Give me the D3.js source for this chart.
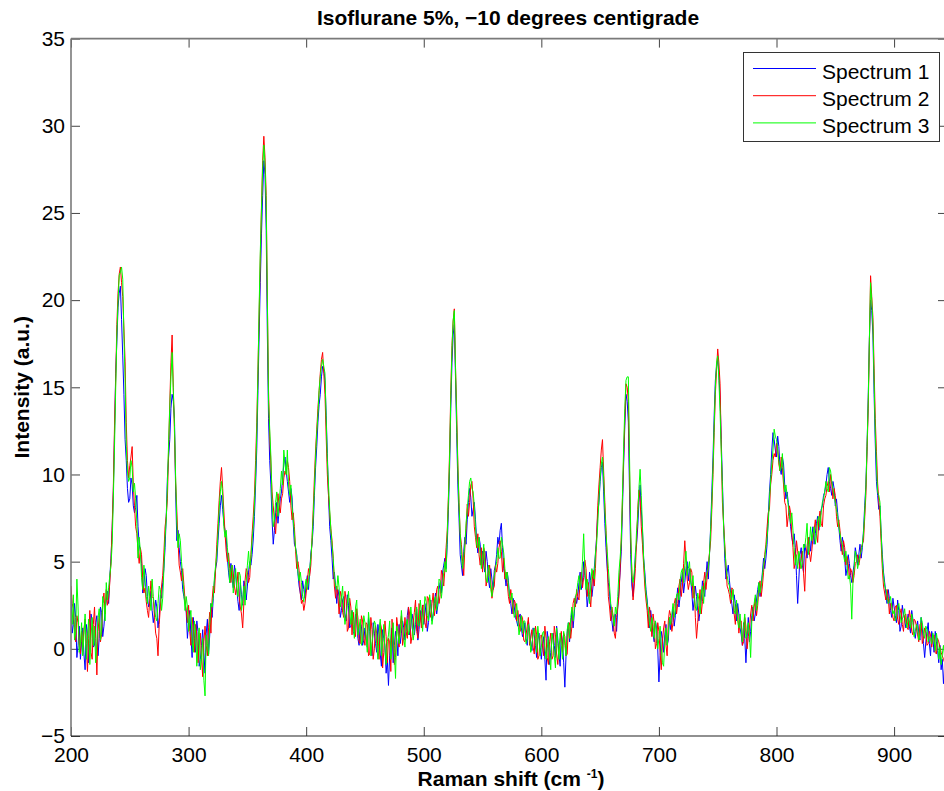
<!DOCTYPE html>
<html><head><meta charset="utf-8">
<script src="https://cdn.jsdelivr.net/npm/d3@7"></script>
<style>
body{margin:0;background:#fff}
svg{display:block}
text{font-family:"Liberation Sans",Arial,Helvetica,sans-serif}
</style>
</head><body>
<svg id="chart" width="944" height="791"></svg>
<script>
const chartTitle = "Isoflurane 5%, \u221210 degrees centigrade";
const xLabel = "Raman shift (cm";
const yLabel = "Intensity (a.u.)";
const xTicks = [200, 300, 400, 500, 600, 700, 800, 900];
const yTicks = [-5, 0, 5, 10, 15, 20, 25, 30, 35];
const seriesNames = ["Spectrum 1", "Spectrum 2", "Spectrum 3"];
const seriesColors = ["#0000ff", "#ff0000", "#00ff00"];
// Raman shift sampling grids, cm^-1: even points 200..944, odd points 201..943
const wavenumbersEven = d3.range(200, 945, 2);
const wavenumbersOdd = d3.range(201, 944, 2);

// ---- Spectrum 1 (blue) ----
const spectrum1Even = [
2.9,1.4,1.8,0.2,-0.6, 1.2,-1.2,0.9,0.3,1.6, 0.2,1.9,0.6,2.1,1.3, 2.8,2.6,5.2,9.0,15.8,
19.6,20.8,16.8,12.0,9.2, 8.6,9.4,7.8,8.8,6.0, 4.9,3.6,4.2,2.4,3.3, 1.5,2.8,1.2,3.1,3.8,
5.8,9.8,12.0,14.6,13.2, 6.2,5.8,4.5,3.0,2.1, 1.5,0.7,1.8,-0.2,1.0, -0.6,1.1,-1.4,1.7,0.8,
1.8,3.9,5.0,7.2,8.8, 7.2,6.4,4.4,4.9,3.5, 4.3,2.7,3.8,2.5,3.6, 3.6,5.0,5.4,7.6,11.5,
18.0,23.8,28.0,24.0,13.2, 9.4,6.0,7.8,7.2,8.6, 9.8,11.0,9.6,8.4,8.7, 6.0,5.4,3.6,2.8,3.4,
3.8,3.4,5.5,7.0,10.4, 13.0,14.6,16.2,15.4,11.2, 7.0,5.2,4.4,2.6,3.0, 2.2,3.0,1.6,2.5,1.3,
1.0,2.0,0.6,1.5,0.2, 1.2,0.1,1.0,-0.4,0.9, -0.2,0.8,-1.0,0.6,-1.4, -2.1,0.5,-0.8,1.0,-0.4,
0.3,1.6,0.5,1.9,0.8, 2.0,0.8,2.3,1.1,1.5, 1.4,2.6,1.5,2.8,2.0, 3.2,2.5,3.8,4.4,5.2,
6.0,10.4,16.4,18.6,12.4, 7.5,4.8,5.6,6.0,8.4, 8.7,8.0,7.4,5.5,6.0, 5.6,4.4,5.0,3.5,4.0,
4.5,5.4,6.0,7.2,4.6, 3.6,3.9,2.6,2.9,1.8, 1.3,2.0,0.7,1.5,0.2, 1.0,-0.1,0.8,-0.5,0.9,
-0.6,0.7,-1.8,0.5,-0.2, 0.9,-0.5,0.6,-1.0,0.4, -2.2,0.9,0.4,2.2,2.0, 2.6,3.8,3.4,5.0,3.6,
3.0,3.9,3.6,5.4,7.8, 9.6,10.7,7.2,4.6,3.2, 1.6,1.9,1.0,3.4,5.6, 10.6,14.6,13.0,5.4,3.0,
5.5,7.0,9.4,6.8,4.4, 2.8,1.2,1.6,0.4,1.2, -1.9,1.0,-0.2,1.4,0.5, 1.1,2.4,1.9,3.5,3.0,
4.4,3.8,5.0,4.6,3.2, 2.8,3.0,1.6,2.8,3.4, 4.2,4.0,7.0,11.0,15.4, 16.6,14.4,9.6,5.2,4.4,
3.9,2.6,3.1,1.6,2.0, 0.8,1.5,-0.8,1.8,1.0, 2.4,2.0,3.4,3.0,4.4, 4.6,6.0,9.0,11.4,12.0,
11.0,11.6,10.0,10.6,8.6, 8.4,7.0,6.0,5.8,2.6, 5.4,4.8,6.0,5.2,6.4, 6.4,6.0,7.2,6.8,8.0,
8.8,9.4,10.4,9.2,9.6, 8.2,7.8,6.2,6.4,5.2, 4.6,4.9,3.8,4.8,5.4, 5.4,5.2,6.8,9.4,14.4,
20.0,18.0,11.8,8.8,8.2, 5.4,3.8,2.6,2.9,1.8, 2.4,1.5,2.2,1.3,2.0, 1.2,2.0,0.9,1.7,0.6,
1.6,0.5,1.2,-0.5,1.0, 0.3,1.0,-0.2,0.4,-0.8, -1.2,-2.0,-1.6
];
const spectrum1Odd = [
0.9,2.6,-0.5,1.3,0.4, -0.3,1.4,-0.8,2.0,0.1, 1.5,-0.4,2.4,0.7,2.2, 3.3,4.1,6.8,12.3,17.6,
20.4,18.9,14.6,10.8,8.4, 9.8,8.2,8.1,7.0,5.6, 3.2,4.6,3.0,2.6,2.2, 2.0,2.4,1.8,2.9,4.6,
7.6,11.0,13.8,14.2,9.0, 6.8,5.0,3.4,2.6,0.6, 2.2,-0.5,0.6,1.6,-1.0, 0.2,-0.2,0.9,-0.3,2.6,
2.9,4.6,6.2,8.2,8.0, 6.8,5.2,3.8,4.0,4.8, 3.4,2.2,3.1,3.9,2.8, 4.4,4.8,6.3,9.4,14.8,
21.0,26.0,27.2,18.0,10.8, 7.4,6.8,8.4,7.9,9.0, 10.6,10.2,9.0,9.2,7.2, 5.8,4.3,3.2,3.9,2.9,
4.2,4.4,6.0,8.8,11.6, 14.0,15.6,16.0,13.4,8.8, 6.2,4.0,3.6,3.4,1.8, 2.8,2.0,3.1,1.2,2.2,
0.8,1.7,0.2,1.3,0.5, 0.6,1.8,0.2,1.5,0.3, 1.4,-0.3,1.1,0.2,-0.6, -0.4,1.2,0.2,0.6,1.4,
0.9,1.2,1.0,2.4,1.2, 1.6,1.4,0.5,2.2,2.5, 2.0,1.0,2.2,1.6,2.6, 2.0,3.4,3.2,4.8,4.6,
8.0,13.8,18.0,15.6,9.4, 5.4,4.2,6.4,7.4,9.2, 7.6,8.4,6.2,6.4,4.8, 4.8,5.6,4.0,4.6,3.4,
4.8,6.4,6.8,5.8,4.2, 4.4,3.0,2.0,2.4,1.6, 1.8,1.2,0.9,0.6,1.6, 0.4,1.2,0.2,0.5,0.1,
0.2,-0.6,1.0,-0.9,0.5, 0.2,1.3,-0.4,0.9,-0.8, -0.4,1.5,1.3,1.2,3.0, 3.0,4.4,3.8,4.2,2.4,
4.4,3.0,4.6,6.4,8.4, 10.4,9.0,5.8,3.8,2.2, 1.0,2.0,2.4,4.4,8.0, 12.8,14.2,9.0,3.6,4.0,
6.0,8.4,8.0,5.2,3.4, 2.0,2.2,0.8,1.6,0.0, -0.4,0.6,0.8,0.2,1.8, 1.6,1.3,2.8,2.4,3.8,
3.2,4.6,3.9,4.0,2.2, 3.6,2.2,2.2,3.9,3.0, 5.0,5.4,9.0,13.4,16.2, 15.8,12.0,7.2,4.0,4.8,
3.2,2.0,2.6,2.6,1.2, 0.2,0.6,0.6,0.4,1.9, 1.6,2.8,3.8,3.6,5.2, 5.2,7.6,10.0,12.4,11.4,
12.2,10.4,11.0,9.4,9.0, 7.8,6.4,6.6,4.2,4.0, 5.8,4.4,5.6,6.0,5.6, 7.0,6.6,7.6,7.4,8.2,
9.0,10.0,9.6,8.8,9.2, 8.6,7.0,5.6,6.0,4.2, 5.4,4.2,4.4,5.8,4.8, 6.0,5.8,8.2,11.6,17.8,
19.4,14.6,9.6,8.0,6.6, 4.4,3.2,3.4,2.2,2.9, 1.9,2.8,1.0,2.5,1.7, 1.6,1.3,2.2,1.0,1.2,
0.9,1.8,0.3,0.4,1.5, -0.4,0.6,1.0,-0.1,0.2, -0.6,-1.0
];

// ---- Spectrum 2 (red) ----
const spectrum2Even = [
3.6,2.3,0.4,1.5,-0.3, 0.1,1.7,-1.3,2.2,-0.6, 2.4,-1.5,1.9,0.8,3.2, 3.4,2.9,5.0,9.3,15.4,
20.4,21.9,20.2,16.5,10.8, 10.5,11.6,8.2,6.6,4.9, 5.4,3.2,2.7,1.8,3.9, 2.9,0.9,-0.4,2.4,4.2,
7.0,8.6,14.1,18.0,12.4, 7.9,4.8,3.9,3.7,2.2, 2.5,0.2,1.2,1.4,-0.8, 0.9,-1.6,1.3,-0.4,2.1,
2.8,3.2,6.0,8.5,10.4, 7.9,5.6,5.5,3.8,4.3, 3.1,4.4,2.4,1.2,3.9, 4.4,4.1,6.6,8.8,13.0,
19.2,25.4,29.4,26.0,14.8, 10.6,8.2,6.6,8.9,7.8, 8.9,10.2,10.8,9.6,7.4, 7.0,4.6,4.5,2.6,2.2,
3.2,4.6,4.8,8.0,11.4, 13.8,15.8,17.0,14.6,10.0, 7.8,6.2,3.6,3.6,2.0, 3.0,1.8,2.8,1.2,2.4,
2.1,0.7,1.8,0.3,1.6, 0.2,1.4,-0.3,1.1,0.0, 0.9,-0.6,1.2,-0.2,0.7, 0.6,-1.3,0.9,-0.5,1.2,
1.4,0.2,1.8,0.6,2.0, 0.7,2.1,1.0,2.6,1.2, 2.5,1.2,2.9,1.8,3.2, 2.4,3.6,3.1,4.2,4.6,
6.8,11.4,17.4,19.5,13.6, 8.4,6.0,4.2,6.9,7.6, 9.4,8.6,6.4,6.6,4.8, 4.4,5.5,4.0,4.8,2.9,
3.6,4.4,5.8,5.6,5.2, 4.4,3.0,3.4,2.0,2.6, 2.2,1.0,1.8,0.4,1.3, 0.2,1.1,-0.3,0.8,-0.4,
0.8,-0.4,0.6,-0.9,0.9, -0.4,0.8,-0.9,0.5,-0.2, 0.7,-0.3,1.5,1.3,2.9, 3.4,2.8,4.4,4.1,4.6,
3.8,2.4,4.5,4.6,8.2, 10.4,12.0,8.4,5.2,2.4, 2.4,0.9,1.8,3.0,6.4, 11.0,15.2,14.2,6.4,2.8,
4.6,8.0,8.6,6.0,3.6, 2.2,2.4,0.7,1.5,0.3, 1.0,-1.2,1.2,0.2,1.6, 1.9,1.5,2.9,2.6,4.0,
3.6,6.2,4.0,3.8,4.4, 3.6,0.6,2.5,2.0,3.8, 3.4,4.8,6.2,10.0,14.6, 17.2,15.2,8.4,6.0,3.6,
3.1,3.5,2.0,2.5,0.9, 1.6,0.4,1.3,0.7,2.0, 1.6,2.9,2.5,3.9,3.6, 5.4,7.0,8.0,10.0,11.2,
11.8,10.6,11.0,9.4,8.2, 7.6,7.8,5.8,5.0,5.6, 4.6,5.6,3.3,5.9,5.5, 5.6,6.8,6.6,7.4,7.2,
8.2,8.8,9.6,10.0,8.6, 8.8,7.0,6.8,5.4,5.8, 5.3,4.0,4.4,4.2,5.0, 4.8,5.8,6.2,8.8,13.8,
21.4,19.0,13.2,9.5,7.6, 4.6,3.2,3.4,2.0,2.6, 1.6,2.5,1.4,2.3,1.0, 2.0,1.1,1.8,0.8,1.6,
0.8,1.4,0.3,1.2,0.2, 1.0,0.1,0.8,-0.3,0.4, -0.2,-0.6,-1.0
];
const spectrum2Odd = [
2.6,1.2,1.9,0.4,1.0, 1.1,0.3,0.6,-0.2,1.4, 0.6,1.0,0.4,2.6,2.0, 2.5,3.8,7.0,12.8,18.6,
21.5,21.0,18.4,13.0,9.8, 11.0,9.4,7.0,5.6,5.8, 4.0,3.5,2.2,2.9,3.0, 1.8,0.6,1.4,3.6,5.5,
7.6,11.5,16.4,15.0,9.6, 6.2,4.4,4.6,2.8,1.5, 1.0,1.8,-0.2,0.8,0.5, -0.5,0.4,0.2,1.2,0.9,
3.6,4.6,7.2,9.6,9.2, 6.6,5.0,4.6,4.8,3.6, 3.6,3.0,2.0,2.6,4.6, 3.8,5.4,7.6,10.8,16.0,
22.4,28.0,28.2,20.0,12.2, 9.0,7.4,7.8,8.2,8.6, 9.8,10.0,10.4,8.2,7.8, 5.6,5.0,3.2,2.8,2.6,
3.9,4.2,6.4,9.8,12.6, 14.8,16.6,15.8,12.2,8.8, 6.9,5.2,2.9,3.1,3.3, 2.1,3.3,1.0,2.9,0.8,
1.2,2.3,0.4,1.9,0.6, 1.5,-0.4,1.8,-0.6,1.3, 0.0,1.5,-1.1,1.6,-0.8, 0.4,1.7,-0.9,1.8,0.1,
1.9,0.7,1.0,2.4,0.3, 1.5,2.8,0.6,1.9,2.5, 1.5,3.0,2.2,2.6,1.9, 3.4,2.6,4.5,3.6,5.8,
8.8,14.8,18.8,16.2,10.6, 6.6,5.0,5.9,8.3,8.4, 9.6,7.0,5.8,5.4,5.8, 5.8,3.6,4.4,3.9,3.4,
4.8,4.9,6.2,4.4,4.0, 3.8,2.6,2.8,2.8,1.6, 1.6,1.9,0.5,0.8,1.8, 0.6,0.1,1.3,-0.6,0.7,
0.3,1.3,-0.5,0.4,-0.6, 1.3,-0.3,0.2,1.0,0.9, -0.4,1.3,0.6,2.6,2.4, 3.0,3.9,3.5,5.1,3.0,
3.1,3.6,3.6,6.4,9.4, 11.4,10.2,6.8,3.0,1.6, 1.9,0.6,2.4,4.6,8.6, 13.2,15.0,10.2,4.4,3.6,
6.2,9.1,7.0,4.8,2.8, 1.2,1.8,2.0,0.0,1.5, -0.2,0.4,1.6,-0.4,2.2, 1.0,2.6,2.0,3.6,3.0,
4.9,5.1,3.4,4.6,2.9, 1.8,1.5,3.4,2.7,4.4, 4.1,5.5,8.0,12.4,16.0, 16.4,11.6,7.2,4.8,3.4,
2.6,3.4,1.4,2.0,1.6, 0.2,1.8,0.0,1.2,2.5, 2.4,1.9,3.5,3.0,4.4, 6.0,7.8,9.4,10.8,11.0,
11.4,10.2,10.4,8.4,7.0, 8.2,6.6,4.6,6.2,5.0, 5.2,4.3,5.2,6.4,5.0, 6.4,7.4,6.1,7.9,7.0,
8.6,9.3,9.0,9.4,9.2, 7.6,7.4,6.0,6.2,4.8, 4.9,4.6,3.8,4.9,5.4, 5.2,6.0,7.5,11.3,17.6,
20.2,16.1,11.3,8.5,6.1, 3.6,2.8,3.0,2.6,1.8, 2.4,1.7,2.0,1.4,1.9, 1.2,2.2,1.0,1.7,1.3,
0.4,1.5,0.6,0.9,0.3, 0.8,0.6,-0.2,0.6,0.1, -0.4,-0.8
];

// ---- Spectrum 3 (green) ----
const spectrum3Even = [
2.2,3.1,1.0,2.4,0.3, -0.4,2.0,0.6,-0.9,1.8, 1.3,0.4,2.3,1.0,2.6, 3.8,3.5,4.8,8.6,14.9,
19.9,21.6,21.2,15.5,10.2, 9.8,10.4,9.5,7.2,6.4, 4.1,4.8,3.0,3.6,2.2, 3.0,1.8,2.6,3.4,2.9,
6.4,9.4,13.8,17.0,12.8, 7.2,6.6,5.0,3.2,3.0, 1.0,2.2,-0.2,0.9,0.4, -1.2,0.6,-2.7,0.3,1.4,
2.4,4.1,5.4,8.0,9.6, 7.0,6.8,5.0,4.6,3.2, 4.6,3.0,4.2,2.8,2.5, 4.8,4.6,6.2,8.2,12.4,
19.6,25.2,28.9,25.5,14.2, 11.0,7.0,8.4,7.6,9.2, 9.4,10.6,11.4,8.8,8.2, 6.6,5.3,3.9,3.8,2.7,
4.0,3.9,5.2,7.6,11.0, 13.4,15.6,16.6,15.8,10.8, 8.0,6.0,4.1,3.4,3.5, 2.9,2.1,1.9,3.3,1.4,
1.4,2.4,0.8,1.7,0.5, 1.5,-0.2,1.3,0.4,1.6, 0.3,1.0,-0.4,1.4,-0.9, 0.8,-0.6,1.5,-1.7,1.0,
0.9,1.3,0.1,1.7,1.1, 1.6,1.0,2.4,1.3,2.2, 2.0,2.7,1.6,2.5,1.9, 3.0,2.8,3.9,3.6,5.0,
6.6,11.0,17.2,19.4,13.0, 8.2,5.4,5.3,7.2,8.8, 9.8,9.0,7.0,5.8,5.4, 5.2,4.7,3.8,4.3,3.0,
4.2,5.0,5.2,6.4,5.5, 4.0,3.7,2.8,2.4,2.0, 1.7,1.2,0.9,1.6,0.5, 0.9,0.2,1.2,-0.2,0.6,
0.1,1.0,-0.6,0.7,-1.2, 0.5,-1.1,0.3,0.9,-0.6, 0.2,1.1,0.6,2.4,2.2, 3.2,4.2,4.0,6.6,3.4,
3.4,3.6,4.2,5.5,7.2, 9.8,11.0,8.0,5.6,3.6, 2.2,1.3,2.0,4.4,6.2, 11.6,15.4,15.6,6.8,3.8,
5.2,7.6,10.3,7.0,4.1, 2.6,1.5,1.8,0.6,1.0, 0.6,0.1,-1.0,1.2,0.9, 1.4,2.6,2.3,3.2,3.9,
4.6,4.8,4.2,5.0,3.6, 3.0,2.2,2.8,3.2,2.6, 4.0,4.6,6.8,10.4,15.0, 16.8,13.6,9.2,5.8,4.2,
3.6,2.8,2.2,2.8,1.2, 1.1,1.3,0.6,1.5,-0.5, 2.2,3.1,2.8,3.2,4.2, 5.2,6.4,8.6,10.6,12.6,
12.0,10.8,10.4,9.8,9.4, 8.2,7.2,6.8,4.8,4.6, 5.2,5.0,5.8,7.2,6.0, 6.2,7.0,6.5,7.6,7.8,
8.6,9.6,9.0,10.2,9.2, 8.4,7.6,6.6,6.0,5.0, 4.8,4.2,1.7,4.6,5.2, 5.0,5.6,6.6,9.2,14.2,
21.0,18.6,12.4,9.0,8.4, 5.0,3.6,3.0,2.7,2.4, 2.2,1.8,2.6,1.5,1.9, 1.5,1.8,1.2,1.5,1.0,
1.3,0.8,1.5,0.6,1.1, 0.7,0.3,0.5,0.9,-0.6, -0.9,0.2,-0.7
];
const spectrum3Odd = [
1.4,0.5,4.0,-0.2,1.5, 0.8,-0.6,1.7,0.6,0.2, -0.8,1.8,0.5,3.0,1.6, 2.8,4.2,6.0,11.6,18.0,
21.4,21.9,18.0,11.6,9.6, 10.8,9.0,8.6,5.2,5.6, 3.4,4.0,2.6,3.0,4.0, 2.4,1.6,3.6,2.2,4.6,
7.4,11.8,15.6,14.8,9.8, 5.8,6.2,4.1,2.2,2.4, 1.8,0.4,1.6,-1.0,1.2, -0.6,-1.8,0.8,-0.4,2.6,
3.0,4.8,6.6,9.0,8.8, 6.4,5.8,3.8,4.8,4.0, 3.5,4.4,2.2,3.6,3.8, 5.6,5.2,7.0,10.0,15.8,
22.8,27.6,27.8,20.0,12.6, 8.4,7.4,9.0,8.4,10.2, 11.4,10.0,9.4,9.4,7.4, 5.8,4.4,4.4,3.0,3.6,
3.4,4.6,6.2,9.2,12.4, 14.8,16.2,16.2,13.2,9.4, 6.8,5.2,3.6,4.2,2.4, 3.6,1.4,2.6,2.2,2.2,
0.6,2.8,1.2,0.2,1.9, 0.8,2.1,-0.4,0.9,1.4, -0.6,1.7,0.4,0.0,0.4, 1.6,0.2,-0.2,1.3,0.3,
2.2,0.6,1.4,0.8,2.4, 0.5,1.9,1.4,2.8,1.0, 3.0,1.9,3.1,1.4,2.8, 2.2,4.0,2.9,4.4,4.4,
8.6,14.4,18.8,16.2,10.4, 6.6,4.6,6.0,8.0,9.6, 9.2,8.2,6.0,6.4,4.6, 6.0,4.0,4.8,3.4,3.8,
4.6,5.8,5.2,6.0,4.6, 4.4,3.0,3.2,1.8,2.6, 0.8,1.9,1.6,0.3,1.4, -0.2,0.8,0.6,1.3,-0.4,
0.9,0.2,0.0,-0.5,0.9, -0.4,1.2,-0.6,0.2,1.0, -0.4,1.5,1.8,1.6,3.0, 3.8,3.4,5.0,4.6,4.0,
2.6,4.6,4.0,6.0,8.6, 10.6,9.8,6.6,4.6,2.6, 1.8,2.4,3.0,5.2,8.8, 13.8,15.6,11.0,4.2,4.4,
6.8,9.2,8.8,5.2,3.2, 2.2,1.0,1.4,1.6,0.0, 1.3,-0.8,0.4,0.2,1.8, 2.0,1.8,3.1,2.8,4.4,
3.8,5.6,4.6,3.8,4.2, 2.4,3.2,2.0,3.6,3.8, 4.4,5.4,8.4,12.8,16.4, 15.4,11.4,7.0,4.8,3.8,
3.0,3.4,2.0,1.6,2.0, 0.4,2.0,0.9,0.8,1.6, 2.6,2.2,3.8,3.6,4.8, 5.8,7.2,9.6,11.4,12.2,
11.4,10.2,11.2,9.0,8.8, 7.6,7.8,5.8,5.4,5.6, 4.6,6.0,6.4,5.4,7.0, 6.6,6.0,7.4,7.0,8.4,
9.0,9.2,10.4,9.6,8.8, 8.0,7.0,6.2,5.4,5.6, 4.0,3.6,3.8,5.6,4.6, 5.4,6.0,7.8,11.6,17.8,
20.0,15.4,10.6,8.8,6.6, 4.2,3.4,2.6,3.0,2.0, 1.6,2.4,2.0,1.7,2.3, 1.2,1.6,2.0,0.7,1.4,
0.5,1.8,0.9,1.3,0.4, 0.6,0.9,-0.1,0.4,0.1, -0.3,-0.5
];

// pair each typed value with its wavenumber and order along the axis
function buildSeries(even, odd) {
  const pts = [];
  wavenumbersEven.forEach((w, i) => { if (i < even.length) pts.push([w, even[i]]); });
  wavenumbersOdd.forEach((w, i) => { if (i < odd.length) pts.push([w, odd[i]]); });
  return pts.sort((a, b) => a[0] - b[0]);
}
const spectra = [
  buildSeries(spectrum1Even, spectrum1Odd),
  buildSeries(spectrum2Even, spectrum2Odd),
  buildSeries(spectrum3Even, spectrum3Odd)
];

const svg = d3.select("#chart");
const L = 71, R = 947, T = 38.6, B = 736;
const x = d3.scaleLinear().domain([200, 945]).range([L, R]);
const y = d3.scaleLinear().domain([-5, 35]).range([B, T]);
const FS = 21;

svg.append("defs").append("clipPath").attr("id", "clip")
  .append("rect").attr("x", L).attr("y", T).attr("width", R - L).attr("height", B - T);

// axes
const gx = svg.append("g").attr("transform", `translate(0,${B})`)
  .call(d3.axisBottom(x).tickValues(xTicks).tickSizeInner(-9).tickSizeOuter(0).tickPadding(11));
const gxt = svg.append("g").attr("transform", `translate(0,${T})`)
  .call(d3.axisTop(x).tickValues(xTicks).tickSizeInner(-9).tickSizeOuter(0).tickFormat(""));
const gy = svg.append("g").attr("transform", `translate(${L},0)`)
  .call(d3.axisLeft(y).tickValues(yTicks).tickSizeInner(-9).tickSizeOuter(0).tickPadding(6)
    .tickFormat(d => d < 0 ? "\u2212" + Math.abs(d) : d));
const gyr = svg.append("g").attr("transform", `translate(${R},0)`)
  .call(d3.axisRight(y).tickValues(yTicks).tickSizeInner(-9).tickSizeOuter(0).tickFormat(""));

[gx, gxt, gy, gyr].forEach(g => {
  g.select(".domain").remove();
  g.selectAll("line").attr("stroke", "#444").attr("stroke-width", 1);
  g.selectAll("text").attr("font-size", FS).attr("fill", "#000")
    .attr("font-family", '"Liberation Sans", Arial, sans-serif');
});

// lines
const line = d3.line().x(d => x(d[0])).y(d => y(d[1]));
const plot = svg.append("g").attr("clip-path", "url(#clip)");
spectra.forEach((s, k) => {
  plot.append("path").datum(s)
    .attr("fill", "none").attr("stroke", seriesColors[k]).attr("stroke-width", 1)
    .attr("stroke-linejoin", "round").attr("d", line);
});

// box: left/top spines lighter (anti-aliased look), bottom/right darker
svg.append("line").attr("x1", L).attr("x2", L).attr("y1", T).attr("y2", B)
  .attr("stroke", "#7a7a7a").attr("stroke-width", 1.6);
svg.append("line").attr("x1", L).attr("x2", R).attr("y1", T).attr("y2", T)
  .attr("stroke", "#7a7a7a").attr("stroke-width", 1.6);
svg.append("line").attr("x1", L).attr("x2", R).attr("y1", B).attr("y2", B)
  .attr("stroke", "#222").attr("stroke-width", 1.2);
svg.append("line").attr("x1", R).attr("x2", R).attr("y1", T).attr("y2", B)
  .attr("stroke", "#222").attr("stroke-width", 1.2);

// title
svg.append("text").attr("x", 508).attr("y", 25).attr("text-anchor", "middle")
  .attr("font-size", FS).attr("font-weight", "bold").text(chartTitle);

// x label
const xl = svg.append("text").attr("x", 511).attr("y", 786).attr("text-anchor", "middle")
  .attr("font-size", FS).attr("font-weight", "bold");
xl.append("tspan").text(xLabel + " ");
xl.append("tspan").attr("font-size", 12).attr("dy", -8).text("-1");
xl.append("tspan").attr("dy", 8).text(")");

// y label
svg.append("text").attr("transform", `translate(29,${(T + B) / 2}) rotate(-90)`)
  .attr("text-anchor", "middle").attr("font-size", FS).attr("font-weight", "bold").text(yLabel);

// legend
const lg = svg.append("g");
lg.append("rect").attr("x", 743.5).attr("y", 52.5).attr("width", 196).attr("height", 89)
  .attr("fill", "#fff").attr("stroke", "#333").attr("stroke-width", 1);
seriesNames.forEach((n, i) => {
  const yy = 68.5 + 27.2 * i;
  lg.append("line").attr("x1", 753).attr("x2", 816).attr("y1", yy).attr("y2", yy)
    .attr("stroke", seriesColors[i]).attr("stroke-width", 1);
  lg.append("text").attr("x", 822).attr("y", yy + 10).attr("font-size", FS).text(n);
});
</script>
</body></html>
